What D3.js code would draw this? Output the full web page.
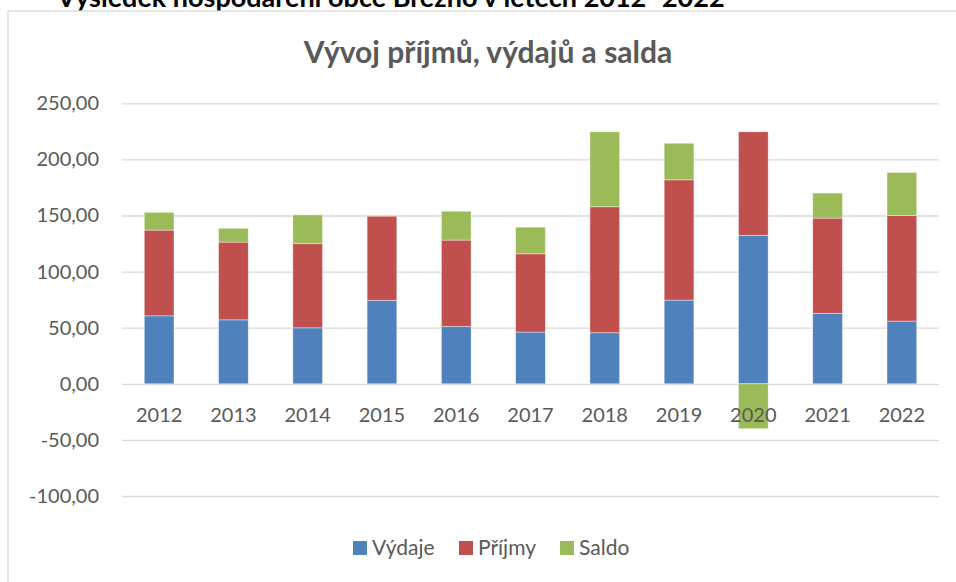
<!DOCTYPE html>
<html>
<head>
<meta charset="utf-8">
<script src="https://cdn.jsdelivr.net/npm/d3@7"></script>
<style>
    body { margin: 0; background: #fff; }
    text { font-family: Lato, "Open Sans", sans-serif; }
</style>
</head>
<body>
<div id="graph1"></div>
<script>
// data
var years = ["2012", "2013", "2014", "2015", "2016", "2017", "2018", "2019", "2020", "2021", "2022"];
var vydaje = [60.6, 57.0, 49.9, 74.4, 51.2, 46.1, 45.5, 74.6, 132.3, 62.7, 55.9];
var prijmy = [76.4, 69.3, 75.3, 75.1, 76.9, 69.8, 112.3, 107.2, 92.3, 85.0, 94.2];
var saldo = [15.8, 12.3, 25.4, 0.7, 25.7, 23.7, 66.8, 32.6, -40.0, 22.3, 38.3];
var yTicks = [-100, -50, 0, 50, 100, 150, 200, 250];
var seriesNames = ["Výdaje", "Příjmy", "Saldo"];
var seriesColors = ["#4f81bd", "#c0504d", "#9bbb59"];

var width = 956, height = 582;

var svg = d3.select("#graph1")
    .append("svg")
    .attr("id", "svg")
    .attr("width", width)
    .attr("height", height);

// heading of the page above the chart, cut off at the top like in the original
svg.append("text")
    .attr("x", 57)
    .attr("y", 7)
    .style("font-size", "27px")
    .style("font-weight", "bold")
    .style("fill", "#000")
    .text("Výsledek hospodaření obce Březno v letech 2012–2022");

// chart box
svg.append("rect")
    .attr("x", 8)
    .attr("y", 11)
    .attr("width", 960)
    .attr("height", 600)
    .style("fill", "#fff")
    .style("stroke", "#d9d9d9")
    .style("stroke-width", 1.3);

svg.append("text")
    .attr("x", 488)
    .attr("y", 63)
    .attr("text-anchor", "middle")
    .style("font-size", "30px")
    .style("font-weight", "bold")
    .style("fill", "#595959")
    .text("Vývoj příjmů, výdajů a salda");

var data = years.map(function (y, i) {
    return {year: y, "Výdaje": vydaje[i], "Příjmy": prijmy[i], "Saldo": saldo[i]};
});

var x = d3.scaleBand()
    .domain(years)
    .range([122, 939])
    .paddingInner(0.6)
    .paddingOuter(0.3);

var y = d3.scaleLinear()
    .domain([-100, 250])
    .range([496, 103.3]);

var color = d3.scaleOrdinal()
    .domain(seriesNames)
    .range(seriesColors);

var locale = d3.formatLocale({decimal: ",", thousands: " ", grouping: [3], currency: ["", " Kč"], minus: "-"});
var fmt = locale.format(".2f");

// gridlines + y labels
var yAxis = svg.append("g")
    .attr("transform", "translate(122,0)")
    .call(d3.axisLeft(y).tickValues(yTicks).tickFormat(fmt).tickSize(-817).tickPadding(23));
yAxis.select(".domain").remove();
yAxis.selectAll("line")
    .style("stroke", "#d9d9d9")
    .style("stroke-width", 1.3);
yAxis.selectAll("text")
    .style("font-size", "20px")
    .style("fill", "#595959")
    .style("font-family", "Lato, sans-serif");

var stacked = d3.stack()
    .keys(seriesNames)
    .offset(d3.stackOffsetDiverging)(data);

svg.selectAll("mySeries")
    .data(stacked)
    .enter()
    .append("g")
    .style("fill", function (d) { return color(d.key); })
    .selectAll("rect")
    .data(function (d) { return d; })
    .enter()
    .append("rect")
    .attr("x", function (d) { return x(d.data.year); })
    .attr("width", x.bandwidth())
    .attr("y", function (d) { return y(d[1]); })
    .attr("height", function (d) { return y(d[0]) - y(d[1]); })
    .style("stroke", "rgba(255,255,255,0.5)")
    .style("stroke-width", 0.8);

// category labels next to the zero line
var xAxis = svg.append("g")
    .attr("transform", "translate(0," + y(0) + ")")
    .call(d3.axisBottom(x).tickSize(0).tickPadding(24));
xAxis.select(".domain").remove();
xAxis.selectAll("text")
    .style("font-size", "20px")
    .style("fill", "#595959")
    .style("font-family", "Lato, sans-serif");

// legend
var legendX = [353, 459, 560];
var legend = svg.selectAll("myLegend")
    .data(seriesNames)
    .enter()
    .append("g")
    .attr("transform", function (d, i) { return "translate(" + legendX[i] + ",541)"; });
legend.append("rect")
    .attr("width", 14)
    .attr("height", 14)
    .style("fill", function (d) { return color(d); });
legend.append("text")
    .attr("x", 19)
    .attr("y", 7)
    .attr("dy", "0.35em")
    .style("font-size", "21px")
    .style("fill", "#595959")
    .text(function (d) { return d; });
</script>
</body>
</html>
